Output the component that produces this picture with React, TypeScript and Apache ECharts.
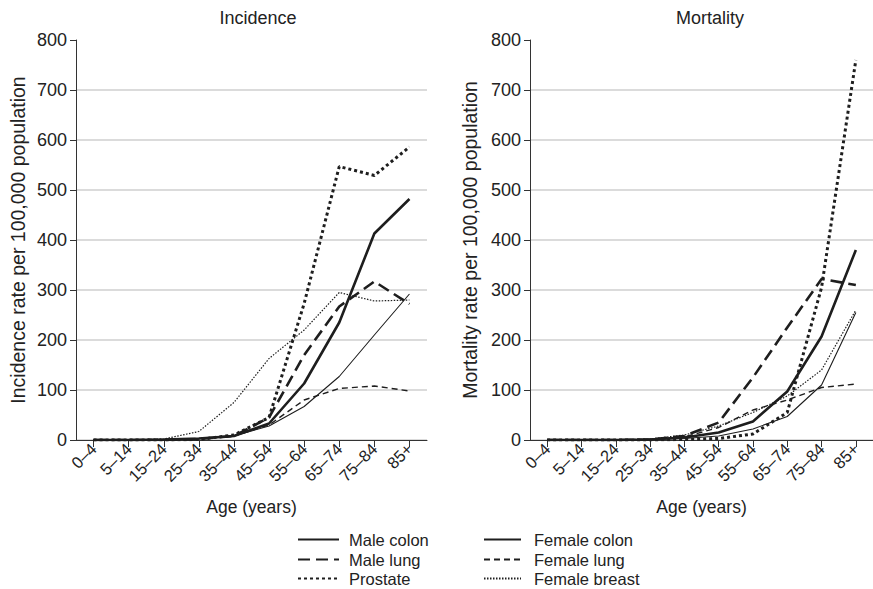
import React, { useEffect, useRef } from "react";
import * as echarts from "echarts";

const ageGroups = ["0–4", "5–14", "15–24", "25–34", "35–44", "45–54", "55–64", "65–74", "75–84", "85+"];
const yTicks = [0, 100, 200, 300, 400, 500, 600, 700, 800];

// Incidence per 100,000
const incMaleColon = [0, 0, 1, 3, 8, 33, 113, 235, 413, 482];
const incMaleLung = [0, 0, 0, 2, 8, 45, 170, 267, 317, 272];
const incProstate = [0, 0, 0, 1, 10, 45, 273, 547, 529, 586];
const incFemaleColon = [0, 0, 1, 3, 8, 28, 67, 127, 210, 292];
const incFemaleLung = [0, 0, 0, 2, 8, 30, 80, 103, 108, 98];
const incFemaleBreast = [0, 0, 2, 17, 75, 163, 220, 295, 278, 280];

// Mortality per 100,000
const morMaleColon = [0, 0, 0, 1, 5, 15, 37, 97, 207, 380];
const morMaleLung = [0, 0, 0, 1, 8, 35, 125, 225, 322, 310];
const morProstate = [0, 0, 0, 0, 1, 3, 12, 55, 305, 760];
const morFemaleColon = [0, 0, 0, 1, 3, 8, 22, 47, 110, 255];
const morFemaleLung = [0, 0, 0, 1, 6, 25, 60, 80, 105, 112];
const morFemaleBreast = [0, 0, 0, 2, 10, 28, 55, 88, 140, 260];

const seriesNames = ["Male colon", "Male lung", "Prostate", "Female colon", "Female lung", "Female breast"];

const INK = "#1e1e1e";
const styles: Record<string, any> = {
  "Male colon": { width: 2.6, type: "solid" },
  "Male lung": { width: 2.6, type: [12, 6] },
  "Prostate": { width: 3, type: [3, 3] },
  "Female colon": { width: 1.1, type: "solid" },
  "Female lung": { width: 1.4, type: [6, 4] },
  "Female breast": { width: 1.2, type: [1.5, 1.5] },
};

const SANS = "'Liberation Sans', Arial, Helvetica, sans-serif";

export default function App() {
  const ref = useRef<HTMLDivElement>(null);

  useEffect(() => {
    if (!ref.current) return;
    const chart = echarts.init(ref.current, undefined, { renderer: "svg" });

    const incData = [incMaleColon, incMaleLung, incProstate, incFemaleColon, incFemaleLung, incFemaleBreast];
    const morData = [morMaleColon, morMaleLung, morProstate, morFemaleColon, morFemaleLung, morFemaleBreast];

    const mkX = (idx: number) => ({
      type: "category",
      gridIndex: idx,
      data: ageGroups,
      boundaryGap: true,
      name: "Age (years)",
      nameLocation: "middle",
      nameGap: 58,
      nameTextStyle: { fontFamily: SANS, fontSize: 17.5, color: "#222" },
      axisLine: { show: true, lineStyle: { color: "#333", width: 1 } },
      axisTick: { show: true, alignWithLabel: true, length: 7, lineStyle: { color: "#333" } },
      axisLabel: { rotate: 45, fontFamily: SANS, fontSize: 16.5, color: "#222", margin: 6, interval: 0 },
      splitLine: { show: false },
    });

    const splitColors = yTicks.map((v, i) => (i === yTicks.length - 1 ? "rgba(0,0,0,0)" : "#cfcfcf"));

    const mkY = (idx: number, name: string, gap: number) => ({
      type: "value",
      gridIndex: idx,
      min: yTicks[0],
      max: yTicks[yTicks.length - 1],
      interval: 100,
      name,
      nameLocation: "middle",
      nameGap: gap,
      nameTextStyle: { fontFamily: SANS, fontSize: 19.5, color: "#222" },
      axisLine: { show: true, lineStyle: { color: "#333", width: 1 } },
      axisTick: { show: true, length: 6, lineStyle: { color: "#333" } },
      axisLabel: { fontFamily: SANS, fontSize: 18, color: "#222", margin: 9 },
      splitLine: { show: true, lineStyle: { color: splitColors, width: 1.5 } },
    });

    const mkSeries = (data: number[][], idx: number) =>
      seriesNames.map((n, i) => ({
        name: n,
        type: "line",
        xAxisIndex: idx,
        yAxisIndex: idx,
        data: data[i],
        symbol: "none",
        showSymbol: false,
        lineStyle: { color: INK, width: styles[n].width, type: styles[n].type, cap: "butt" },
        itemStyle: { color: INK },
        z: 10 - i,
      }));

    const legendPos = [
      { left: 297, top: 531, w: 41, pad: 5 },
      { left: 297, top: 551, w: 41, pad: 5 },
      { left: 297, top: 570, w: 41, pad: 5 },
      { left: 483, top: 531, w: 37, pad: 8 },
      { left: 483, top: 551, w: 37, pad: 8 },
      { left: 483, top: 570, w: 37, pad: 8 },
    ];

    const legends = seriesNames.map((n, i) => ({
      data: [n],
      orient: "horizontal",
      left: legendPos[i].left,
      top: legendPos[i].top,
      padding: 0,
      itemWidth: legendPos[i].w,
      itemHeight: 14,
      itemStyle: { color: "rgba(0,0,0,0)", borderColor: "rgba(0,0,0,0)", borderWidth: 0 },
      textStyle: { fontFamily: SANS, fontSize: 16.5, color: "#222", padding: [0, 0, 0, legendPos[i].pad], lineHeight: 15 },
      selectedMode: false,
    }));

    chart.setOption({
      animation: false,
      backgroundColor: "#fff",
      grid: [
        { left: 76, right: 446, top: 40, bottom: 149, containLabel: false },
        { left: 530, right: -8, top: 40, bottom: 149, containLabel: false },
      ],
      xAxis: [mkX(0), mkX(1)],
      yAxis: [
        mkY(0, "Incidence rate per 100,000 population", 48),
        mkY(1, "Mortality rate per 100,000 population", 50),
      ],
      graphic: [
        { type: "text", x: 258, y: 18, style: { text: "Incidence", fontFamily: SANS, fontSize: 18, fill: "#222", textAlign: "center", textVerticalAlign: "middle" } },
        { type: "text", x: 710, y: 18, style: { text: "Mortality", fontFamily: SANS, fontSize: 18, fill: "#222", textAlign: "center", textVerticalAlign: "middle" } },
      ],
      legend: legends,
      series: [...mkSeries(incData, 0), ...mkSeries(morData, 1)],
    });

    return () => chart.dispose();
  }, []);

  return (
    <div
      ref={ref}
      style={{ position: "absolute", left: 0, top: 0, width: 873, height: 589, background: "#fff" }}
    />
  );
}
